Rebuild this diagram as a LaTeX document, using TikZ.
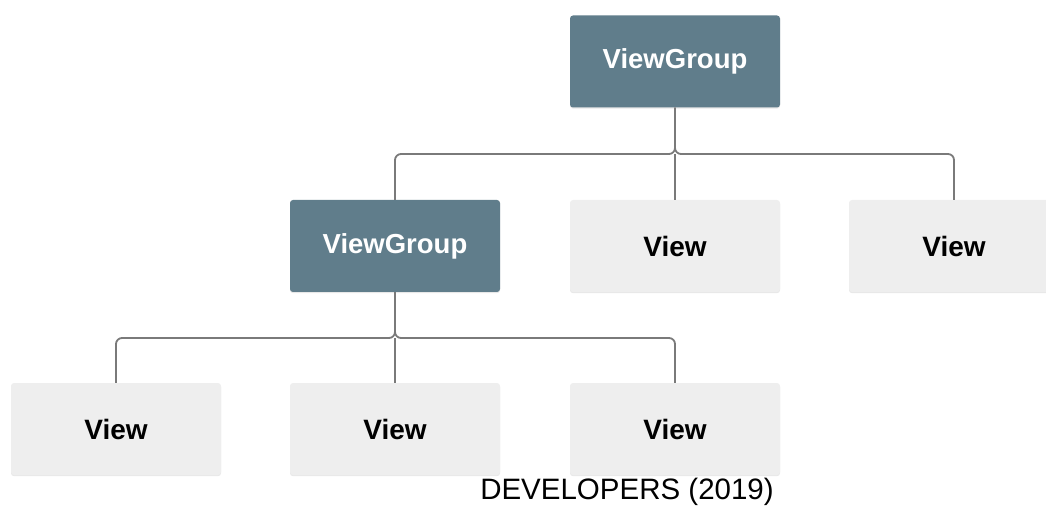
\documentclass[tikz,border=0pt]{standalone}
\usepackage{fontspec}
\setmainfont{Liberation Sans}
\newfontfamily\boxfont{Liberation Sans}
\usetikzlibrary{shadows}
\definecolor{groupfill}{HTML}{607D8B}
\definecolor{viewfill}{HTML}{EEEEEE}
\definecolor{linegray}{HTML}{7A7A7A}
\tikzset{
  x=1pt, y=-1pt,
  box/.style={minimum width=210pt, minimum height=92pt, rounded corners=3pt,
    inner sep=0pt, drop shadow={opacity=0.18, shadow xshift=0pt, shadow yshift=-1.2pt}},
  groupbox/.style={box, fill=groupfill, text=white, font=\boxfont\bfseries\fontsize{27.5}{30}\selectfont},
  viewbox/.style={box, fill=viewfill, text=black, font=\boxfont\bfseries\fontsize{28}{30}\selectfont},
  conn/.style={draw=linegray, line width=1.8pt, rounded corners=6pt},
  caption/.style={font=\fontsize{29.5}{34}\selectfont, inner sep=0pt}
}
\begin{document}
\begin{tikzpicture}
\useasboundingbox (0,0) rectangle (1046,510);
\clip (0,0) rectangle (1046,510);
% tree nodes
\node[groupbox] (root) at (675,61.5) {ViewGroup};
\node[groupbox] (grp)  at (395,246) {ViewGroup};
\node[viewbox]  (v1)   at (675,246) {View};
\node[viewbox]  (v2)   at (954,246) {View};
\node[viewbox]  (c1)   at (116,429) {View};
\node[viewbox]  (c2)   at (395,429) {View};
\node[viewbox]  (c3)   at (675,429) {View};
% bus junctions
\coordinate (j1) at (675,154);
\coordinate (j2) at (395,338);
% first level connectors
\draw[conn] (grp.north) |- (j1) -- (root.south);
\draw[conn] (v2.north) |- (j1) -- (root.south);
\draw[conn] (j1) -- (v1.north);
% second level connectors
\draw[conn] (c1.north) |- (j2) -- (grp.south);
\draw[conn] (c3.north) |- (j2) -- (grp.south);
\draw[conn] (j2) -- (c2.north);
% source line
\node[caption] (src) at (627,492) {DEVELOPERS (2019)};
\end{tikzpicture}
\end{document}
